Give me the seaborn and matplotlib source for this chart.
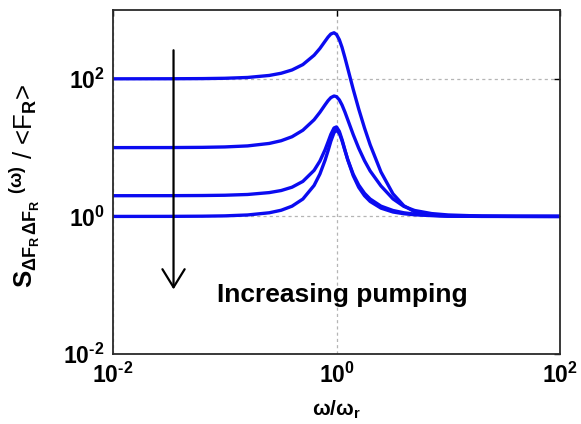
import matplotlib
matplotlib.use("Agg")
import matplotlib.pyplot as plt
import pandas as pd
import seaborn as sns
from matplotlib.ticker import NullLocator, FixedLocator, FuncFormatter
import math

# Normalised frequency omega / omega_r
omega = [0.01, 0.032, 0.063, 0.1, 0.16, 0.25, 0.32, 0.4, 0.5, 0.63, 0.71, 0.79,
         0.84, 0.89, 0.95, 1.0, 1.06, 1.12, 1.19, 1.26, 1.41, 1.58, 1.78, 2.0,
         2.5, 3.2, 4.0, 5.0, 7.1, 10, 20, 40, 100]

# Normalised photon-number noise spectra, lowest to highest pumping
spec_p1 = [100.0, 100.2, 100.7, 101.8, 104.6, 111.9, 120.5, 134.5, 161, 220, 276, 352,
           404, 448, 467, 441, 370, 287, 202, 142, 70.6, 36.4, 19.3, 11.0,
           4.42, 2.13, 1.43, 1.17, 1.04, 1.01, 1.0, 1.0, 1.0]
spec_p2 = [10.0, 10.02, 10.09, 10.23, 10.59, 11.5, 12.6, 14.4, 17.9, 25.4, 32.6, 41.9,
           48.1, 53.3, 56.3, 55, 49.4, 41.7, 32.8, 25.5, 15.5, 9.8, 6.46, 4.58,
           2.77, 1.80, 1.40, 1.22, 1.10, 1.05, 1.012, 1.003, 1.0]
spec_p3 = [2.0, 2.003, 2.013, 2.032, 2.084, 2.22, 2.38, 2.66, 3.23, 4.67, 6.37, 9.32,
           12.1, 15.6, 19.3, 20, 17.2, 13.1, 9.2, 6.66, 3.92, 2.65, 2.0, 1.65,
           1.32, 1.16, 1.095, 1.057, 1.027, 1.013, 1.003, 1.001, 1.0]
spec_p4 = [1.0, 1.002, 1.008, 1.019, 1.05, 1.13, 1.23, 1.41, 1.79, 2.82, 4.13, 6.56,
           9.0, 12.4, 16.5, 18, 16.1, 12.6, 9.05, 6.71, 4.11, 2.86, 2.17, 1.79,
           1.41, 1.22, 1.13, 1.08, 1.04, 1.02, 1.005, 1.001, 1.0]
pump_levels = ["P1", "P2", "P3", "P4"]

x_ticks = [1e-2, 1e0, 1e2]
y_ticks = [1e-2, 1e0, 1e2]

sns.set_style("white")
plt.rcParams.update({
    "font.family": ["Liberation Sans", "DejaVu Sans"],
    "font.weight": "bold",
    "text.color": "black",
    "axes.labelcolor": "black",
    "xtick.color": "black",
    "ytick.color": "black",
    "axes.unicode_minus": False,
    "mathtext.fontset": "custom",
    "mathtext.rm": "Liberation Sans:bold",
    "mathtext.it": "Liberation Sans:bold",
    "mathtext.bf": "Liberation Sans:bold",
    "mathtext.sf": "Liberation Sans:bold",
})


def power_label(val, pos):
    exp = int(round(math.log10(val)))
    if exp < 0:
        return r"$10^{\text{-}%d}$" % abs(exp)
    return r"$10^{%d}$" % exp


frames = []
for name, vals in zip(pump_levels, [spec_p1, spec_p2, spec_p3, spec_p4]):
    frames.append(pd.DataFrame({"omega": omega, "S": vals, "pumping": name}))
df = pd.concat(frames, ignore_index=True)

fig = plt.figure(figsize=(5.81, 4.24), dpi=100)
ax = fig.add_axes([0.1945, 0.165, 0.7694, 0.8114])

sns.lineplot(data=df, x="omega", y="S", hue="pumping", palette=["#0b0bf0"] * 4,
             linewidth=2.4, legend=False, errorbar=None, ax=ax)

ax.set_xscale("log")
ax.set_yscale("log")
ax.set_xlim(1e-2, 1e2)
ax.set_ylim(1e-2, 1e3)
ax.xaxis.set_major_locator(FixedLocator(x_ticks))
ax.yaxis.set_major_locator(FixedLocator(y_ticks))
ax.xaxis.set_minor_locator(NullLocator())
ax.yaxis.set_minor_locator(NullLocator())
ax.xaxis.set_major_formatter(FuncFormatter(power_label))
ax.yaxis.set_major_formatter(FuncFormatter(power_label))

ax.set_axisbelow(True)
ax.grid(True, which="major", linestyle=(0, (2.5, 2.5)), color="#b5b5b5", linewidth=0.9)

ax.tick_params(direction="in", top=True, right=True, length=4, width=1.0,
               labelsize=16.5, pad=6, colors="black")
for sp in ax.spines.values():
    sp.set_color("#2a2a2a")
    sp.set_linewidth(1.3)

ax.set_xlabel(r"$\omega/\omega_r$", fontsize=15)
ax.xaxis.set_label_coords(0.5, -0.13)
ax.set_ylabel(r"$S_{\Delta F_R\,\Delta F_R}\;{}^{(\omega)}$ / <F$_R$>", fontsize=18.5)
ax.yaxis.set_label_coords(-0.158, 0.49)

# pumping direction
ax.annotate("", xy=(0.0348, 0.087), xytext=(0.0348, 260),
            arrowprops=dict(arrowstyle="->,head_length=0.65,head_width=0.4",
                            mutation_scale=20, color="black", lw=1.6,
                            shrinkA=0, shrinkB=0))
ax.text(0.0844, 0.058, "Increasing pumping", fontsize=19, fontweight="bold",
        ha="left", va="baseline")

fig.savefig("out.png", dpi=100)
